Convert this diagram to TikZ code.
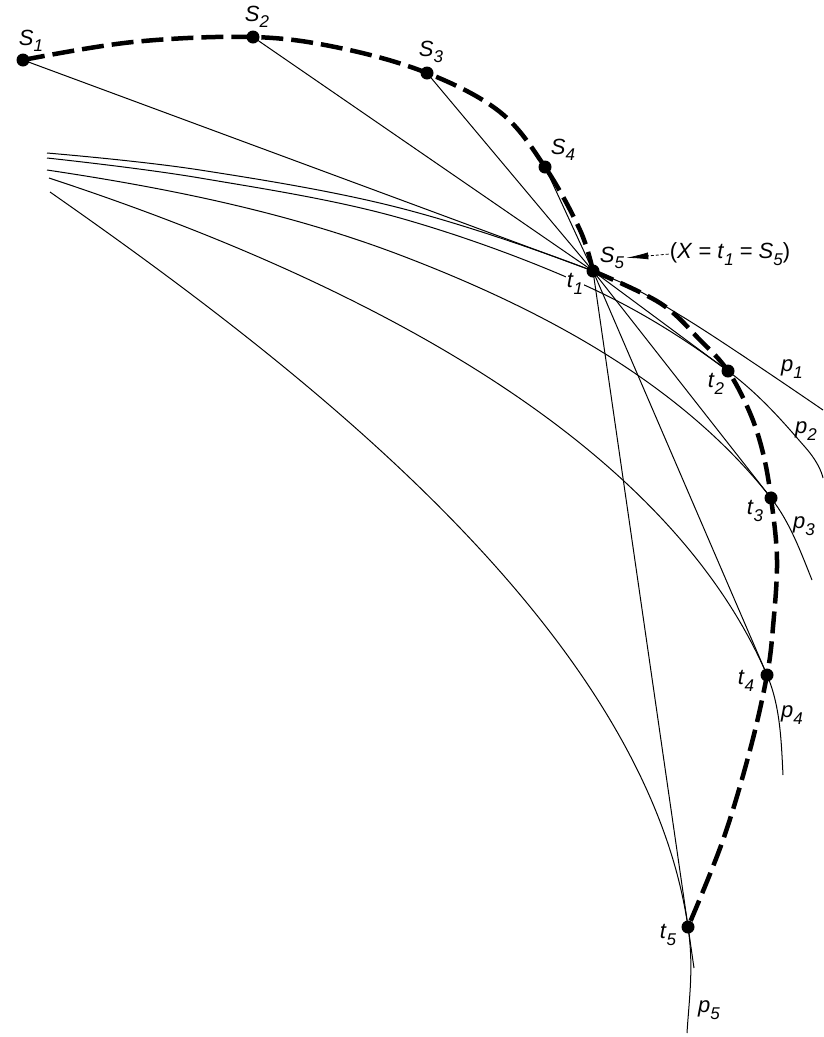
\documentclass[tikz,border=0pt]{standalone}
\usepackage{fontspec}
\setmainfont{Liberation Sans}
\usetikzlibrary{arrows.meta}
\newcommand\lbl[2]{\textit{#1}\raisebox{-0.3em}{\fontsize{17}{17}\selectfont\textit{#2}}}
\newcommand\thinsp{\hspace{6pt}}
\begin{document}
\begin{tikzpicture}[x=1pt,y=-1pt,
  env/.style={line width=4.5pt, dash pattern=on 22pt off 8pt},
  ray/.style={line width=1pt},
  wave/.style={line width=1pt},
  dotpt/.style={circle, fill, inner sep=0pt, minimum size=13pt},
  lab/.style={font=\fontsize{22}{22}\selectfont, inner sep=0pt},
  leader/.style={line width=0.8pt, dash pattern=on 3pt off 2pt, -{Latex[length=22pt,width=7pt]}, shorten >=2pt, shorten <=1pt},
]
\useasboundingbox (0,0) rectangle (823,1037);
% main points
\coordinate (S1) at (23,60);
\coordinate (S2) at (253,37);
\coordinate (S3) at (427,73);
\coordinate (S4) at (545,167);
\coordinate (t1) at (593,271);
\coordinate (t2) at (728,371);
\coordinate (t3) at (771,498);
\coordinate (t4) at (767,675);
\coordinate (t5) at (688,927);
\coordinate (t5x) at (694,968);
% wave curve end points
\coordinate (p1a) at (47,153);  \coordinate (p1e) at (823,410);
\coordinate (p2a) at (47,158);  \coordinate (p2e) at (823,478);
\coordinate (p3a) at (47,170);  \coordinate (p3m) at (400,255); \coordinate (p3e) at (812,580);
\coordinate (p4a) at (49,178);  \coordinate (p4m) at (390,320); \coordinate (p4e) at (783,775);
\coordinate (p5a) at (50,192);  \coordinate (p5e) at (687,1033);
% rays
\draw[ray] (S1) -- (t1);
\draw[ray] (S2) -- (t1);
\draw[ray] (S3) -- (t1);
\draw[ray] (S4) -- (t1);
\draw[ray] (t1) -- (t2);
\draw[ray] (t1) -- (t3);
\draw[ray] (t1) -- (t4);
\draw[ray] (t1) -- (t5x);
% wave curves p1..p5
\draw[wave] plot[smooth, tension=0.6] coordinates {(p1a) (200,170) (400,208) (t1) (683,317) (p1e)};
\draw[wave] plot[smooth, tension=0.6] coordinates {(p2a) (200,178) (400,218) (593,289) (t2) (805,447) (p2e)};
\draw[wave] (p3a) .. controls (166.7,187.9) and (287,212) .. (p3m)
                  .. controls (538,307.5) and (679.7,381.5) .. (t3)
                  .. controls (789.9,522.1) and (800.6,551.6) .. (p3e);
\draw[wave] (p4a) .. controls (165.9,216.5) and (281.4,262.3) .. (p4m)
                  .. controls (542.4,401) and (698.6,516.6) .. (t4)
                  .. controls (780.3,705.9) and (781.3,741.3) .. (p4e);
\draw[wave] (p5a) .. controls (296,364) and (645,630) .. (t5)
                  .. controls (694,967) and (689,1000) .. (p5e);
% envelope curves
\draw[env] plot[smooth, tension=0.6] coordinates {(S1) (133,42) (S2) (340,48) (S3) (500,112) (S4) (580,230) (t1)};
\draw[env] plot[smooth, tension=0.6] coordinates {(t1) (660,303) (700,340) (t2) (750,413) (763,453) (t3) (777,560) (773,627) (t4) (750,750) (723,840) (t5)};
% dots
\foreach \p in {S1,S2,S3,S4,t1,t2,t3,t4,t5} \node[dotpt] (\p dot) at (\p) {};
% labels
\node[lab] (S1lab) at (31,41) {\lbl{S}{1}};
\node[lab] (S2lab) at (257,17) {\lbl{S}{2}};
\node[lab] (S3lab) at (431,52) {\lbl{S}{3}};
\node[lab] (S4lab) at (563,150) {\lbl{S}{4}};
\node[lab] (S5lab) at (612,258) {\lbl{S}{5}};
\node[lab, fill=white, inner sep=1pt] (t1lab) at (575,284) {\lbl{t}{1}};
\node[lab] (t2lab) at (716,384) {\lbl{t}{2}};
\node[lab] (t3lab) at (755,511) {\lbl{t}{3}};
\node[lab] (t4lab) at (746,681) {\lbl{t}{4}};
\node[lab] (t5lab) at (668,935) {\lbl{t}{5}};
\node[lab] (p1lab) at (792,369) {\lbl{p}{1}};
\node[lab] (p2lab) at (806,431) {\lbl{p}{2}};
\node[lab] (p3lab) at (804,526) {\lbl{p}{3}};
\node[lab] (p4lab) at (792,715) {\lbl{p}{4}};
\node[lab] (p5lab) at (709,1010) {\lbl{p}{5}};
\node[lab] (xlab) at (730,254) {(\textit{X}\thinsp=\thinsp\lbl{t}{1}\thinsp=\thinsp\lbl{S}{5})};
\draw[leader] (xlab.west) -- (S5lab.east);
\end{tikzpicture}
\end{document}
